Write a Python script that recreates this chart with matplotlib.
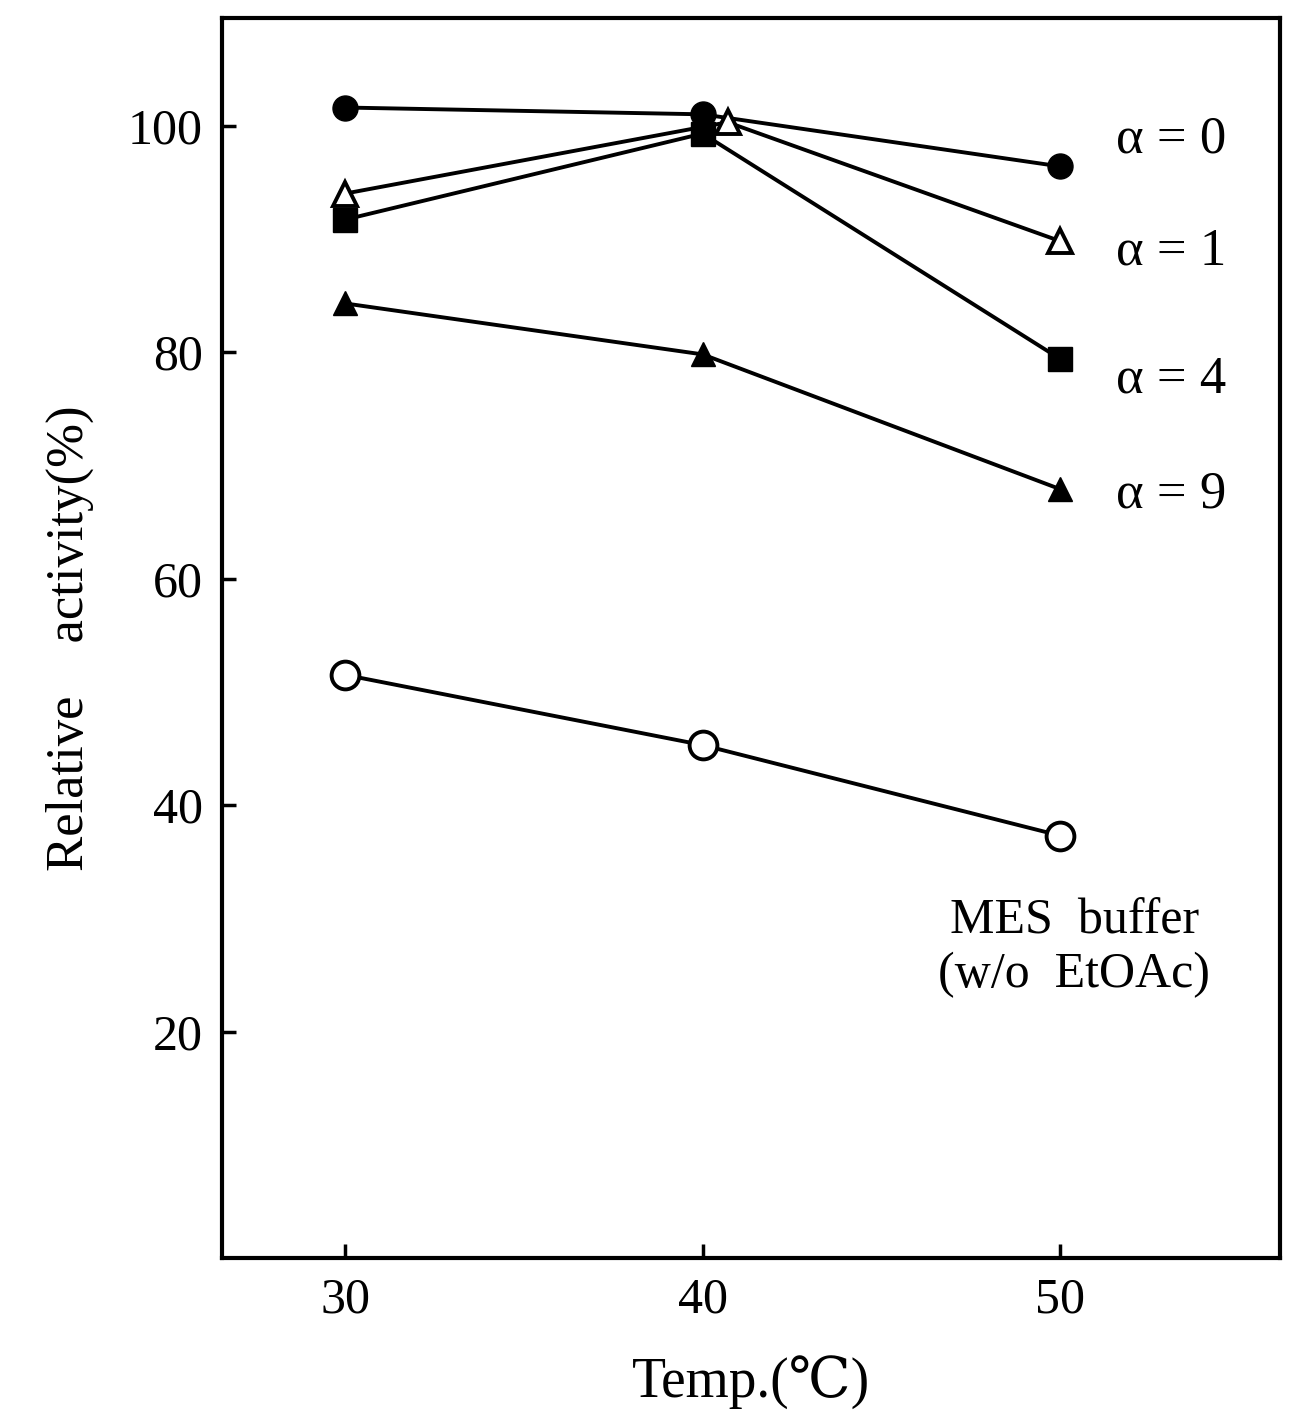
import matplotlib
matplotlib.use("Agg")
import matplotlib.pyplot as plt

plt.rcParams['font.family'] = ['Liberation Serif', 'DejaVu Serif']

temps = [30, 40, 50]
temps_a1 = [30, 40.7, 50]
a0 = [101.6, 101.0, 96.4]
a1 = [94.0, 100.3, 89.8]
a4 = [91.7, 99.3, 79.4]
a9 = [84.3, 79.8, 67.9]
mes = [51.5, 45.3, 37.3]

series_labels = ["α = 0", "α = 1", "α = 4", "α = 9"]
label_y = [98.8, 88.9, 77.6, 67.4]
xticks = [30, 40, 50]
yticks = [20, 40, 60, 80, 100]

fig = plt.figure(figsize=(12.91, 14.11), dpi=100)
ax = fig.add_axes([0.172, 0.1084, 0.8195, 0.8788])

lw = 2.8
ax.plot(temps, a0, '-', color='black', lw=lw, marker='o', ms=18, mfc='black', mec='black', zorder=3)
ax.plot(temps_a1, a1, '-', color='black', lw=lw, marker='^', ms=17, mfc='white', mec='black', mew=2.8, zorder=3)
ax.plot(temps, a4, '-', color='black', lw=lw, marker='s', ms=17, mfc='black', mec='black', zorder=3)
ax.plot(temps, a9, '-', color='black', lw=lw, marker='^', ms=17, mfc='black', mec='black', zorder=3)
ax.plot(temps, mes, '-', color='black', lw=lw, marker='o', ms=20, mfc='white', mec='black', mew=2.8, zorder=3)

for lab, yy in zip(series_labels, label_y):
    ax.text(53.1, yy, lab, fontsize=38, ha='center', va='center')

ax.text(50.4, 27.4, "MES  buffer\n(w/o  EtOAc)", fontsize=36, ha='center', va='center', linespacing=1.2)

ax.set_xlim(26.56, 56.15)
ax.set_ylim(0, 109.5)
ax.set_xticks(xticks)
ax.set_yticks(yticks)
ax.tick_params(direction='in', length=10, width=2.5, labelsize=36, pad=14)
for s in ax.spines.values():
    s.set_linewidth(3)

ax.set_xlabel("Temp.(℃)", fontsize=40, labelpad=22)
ax.set_ylabel("Relative    activity(%)", fontsize=38, labelpad=24)

fig.savefig("out.png", dpi=100)
